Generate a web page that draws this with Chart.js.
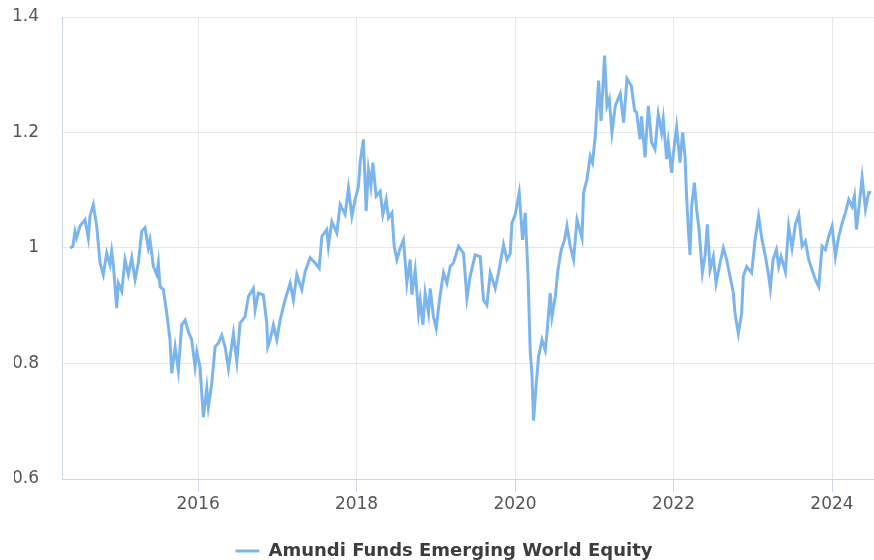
<!DOCTYPE html>
<html>
<head>
<meta charset="utf-8">
<script src="https://cdn.jsdelivr.net/npm/chart.js@4.4.1/dist/chart.umd.min.js"></script>
<style>
  html, body { margin: 0; padding: 0; background: #fff; }
</style>
</head>
<body>
<canvas id="myChart" width="874" height="560"></canvas>
<script>
// fund value, relative to the start (decimal years)
var seriesName = 'Amundi Funds Emerging World Equity';

var dates = [
    2014.384, 2014.420, 2014.447, 2014.468, 2014.510, 2014.573, 2014.615, 2014.636, 2014.678, 2014.721,
    2014.763, 2014.804, 2014.847, 2014.889, 2014.910, 2014.931, 2014.973, 2014.994, 2015.037, 2015.078,
    2015.120, 2015.163, 2015.205, 2015.246, 2015.289, 2015.331, 2015.372, 2015.394, 2015.436, 2015.479,
    2015.499, 2015.520, 2015.562, 2015.605, 2015.646, 2015.668, 2015.710, 2015.751, 2015.794, 2015.836,
    2015.878, 2015.920, 2015.962, 2015.984, 2016.025, 2016.067, 2016.110, 2016.130, 2016.173, 2016.215,
    2016.256, 2016.299, 2016.341, 2016.383, 2016.446, 2016.489, 2016.530, 2016.593, 2016.635, 2016.698,
    2016.720, 2016.761, 2016.824, 2016.867, 2016.880, 2016.909, 2016.951, 2016.994, 2017.035, 2017.098,
    2017.162, 2017.203, 2017.246, 2017.309, 2017.351, 2017.414, 2017.477, 2017.528, 2017.562, 2017.625,
    2017.645, 2017.688, 2017.751, 2017.793, 2017.856, 2017.898, 2017.941, 2017.982, 2018.024, 2018.045,
    2018.087, 2018.121, 2018.150, 2018.181, 2018.206, 2018.247, 2018.298, 2018.332, 2018.374, 2018.403,
    2018.446, 2018.475, 2018.509, 2018.551, 2018.592, 2018.635, 2018.677, 2018.698, 2018.740, 2018.782,
    2018.803, 2018.837, 2018.866, 2018.908, 2018.929, 2018.971, 2019.005, 2019.047, 2019.097, 2019.140,
    2019.182, 2019.223, 2019.287, 2019.350, 2019.393, 2019.434, 2019.497, 2019.561, 2019.602, 2019.645,
    2019.687, 2019.750, 2019.792, 2019.855, 2019.898, 2019.939, 2019.961, 2020.003, 2020.053, 2020.095,
    2020.129, 2020.163, 2020.192, 2020.213, 2020.234, 2020.264, 2020.297, 2020.340, 2020.381, 2020.403,
    2020.444, 2020.466, 2020.508, 2020.542, 2020.583, 2020.625, 2020.655, 2020.697, 2020.739, 2020.782,
    2020.845, 2020.865, 2020.908, 2020.949, 2020.978, 2021.013, 2021.054, 2021.085, 2021.130, 2021.160,
    2021.189, 2021.223, 2021.265, 2021.328, 2021.370, 2021.413, 2021.467, 2021.509, 2021.534, 2021.577,
    2021.597, 2021.640, 2021.682, 2021.723, 2021.766, 2021.808, 2021.850, 2021.871, 2021.913, 2021.934,
    2021.976, 2021.997, 2022.039, 2022.082, 2022.115, 2022.145, 2022.165, 2022.187, 2022.208, 2022.229,
    2022.263, 2022.292, 2022.322, 2022.364, 2022.398, 2022.427, 2022.461, 2022.503, 2022.537, 2022.587,
    2022.629, 2022.670, 2022.713, 2022.755, 2022.776, 2022.818, 2022.860, 2022.881, 2022.923, 2022.986,
    2023.029, 2023.074, 2023.117, 2023.159, 2023.201, 2023.222, 2023.256, 2023.298, 2023.327, 2023.357,
    2023.412, 2023.453, 2023.496, 2023.538, 2023.580, 2023.622, 2023.664, 2023.706, 2023.749, 2023.790,
    2023.832, 2023.875, 2023.917, 2023.958, 2024.001, 2024.043, 2024.085, 2024.128, 2024.169, 2024.211,
    2024.254, 2024.283, 2024.308, 2024.337, 2024.380, 2024.422, 2024.463, 2024.494
];

var values = [
    1.000, 1.003, 1.029, 1.018, 1.038, 1.049, 1.017, 1.055, 1.075, 1.038,
    0.974, 0.954, 0.991, 0.971, 0.994, 0.971, 0.896, 0.939, 0.925, 0.980,
    0.954, 0.983, 0.945, 0.974, 1.029, 1.035, 1.000, 1.014, 0.968, 0.954,
    0.974, 0.933, 0.928, 0.887, 0.841, 0.783, 0.829, 0.788, 0.867, 0.875,
    0.855, 0.841, 0.794, 0.820, 0.794, 0.707, 0.757, 0.725, 0.765, 0.829,
    0.835, 0.849, 0.829, 0.791, 0.852, 0.803, 0.870, 0.881, 0.916, 0.930,
    0.893, 0.922, 0.919, 0.870, 0.829, 0.841, 0.867, 0.841, 0.875, 0.910,
    0.939, 0.910, 0.954, 0.928, 0.959, 0.983, 0.974, 0.965, 1.020, 1.032,
    1.003, 1.046, 1.026, 1.075, 1.058, 1.104, 1.055, 1.084, 1.107, 1.148,
    1.188, 1.064, 1.136, 1.107, 1.148, 1.090, 1.098, 1.058, 1.084, 1.052,
    1.061, 1.003, 0.980, 1.000, 1.014, 0.939, 0.980, 0.919, 0.962, 0.887,
    0.910, 0.867, 0.922, 0.887, 0.930, 0.881, 0.861, 0.910, 0.957, 0.939,
    0.968, 0.974, 1.003, 0.991, 0.913, 0.951, 0.988, 0.985, 0.910, 0.901,
    0.957, 0.930, 0.957, 1.006, 0.980, 0.990, 1.043, 1.058, 1.096, 1.014,
    1.061, 0.957, 0.820, 0.783, 0.701, 0.759, 0.812, 0.841, 0.823, 0.852,
    0.922, 0.881, 0.916, 0.962, 0.997, 1.014, 1.038, 1.003, 0.980, 1.049,
    1.017, 1.096, 1.119, 1.159, 1.148, 1.194, 1.290, 1.220, 1.333, 1.246,
    1.258, 1.200, 1.246, 1.267, 1.217, 1.293, 1.281, 1.238, 1.235, 1.188,
    1.228, 1.157, 1.246, 1.183, 1.171, 1.232, 1.200, 1.223, 1.154, 1.183,
    1.130, 1.162, 1.209, 1.148, 1.200, 1.159, 1.090, 1.032, 0.988, 1.072,
    1.113, 1.067, 1.032, 0.957, 0.986, 1.041, 0.962, 0.985, 0.939, 0.974,
    1.000, 0.980, 0.951, 0.922, 0.887, 0.852, 0.887, 0.951, 0.968, 0.957,
    1.014, 1.055, 1.014, 0.986, 0.951, 0.930, 0.980, 0.997, 0.968, 0.985,
    0.959, 1.038, 1.000, 1.041, 1.058, 1.003, 1.012, 0.980, 0.962, 0.945,
    0.933, 1.003, 0.997, 1.020, 1.038, 0.985, 1.020, 1.043, 1.061, 1.084,
    1.072, 1.090, 1.032, 1.067, 1.122, 1.067, 1.096, 1.096
];

var yearTicks = [2016, 2018, 2020, 2022, 2024];
var valueTicks = [0.6, 0.8, 1, 1.2, 1.4];

var points = dates.map(function(d, i) {
    return { x: d, y: values[i] };
});

var ctx = document.getElementById('myChart').getContext('2d');
var myChart = new Chart(ctx, {
    type: 'line',
    data: {
        datasets: [
            {
                label: seriesName,
                data: points,
                borderColor: '#7cb5ec',
                backgroundColor: '#7cb5ec',
                borderWidth: 3,
                pointRadius: 0,
                tension: 0,
                fill: false
            }
        ]
    },
    options: {
        responsive: false,
        animation: false,
        layout: { padding: { top: 17, right: 0, bottom: -10, left: 14 } },
        plugins: {
            tooltip: { enabled: false },
            legend: {
                position: 'bottom',
                labels: {
                    usePointStyle: true,
                    pointStyle: 'line',
                    pointStyleWidth: 24,
                    color: '#3d3d3d',
                    padding: 0,
                    font: { family: 'DejaVu Sans', size: 18, weight: 'bold' }
                }
            }
        },
        scales: {
            x: {
                type: 'linear',
                min: 2014.283,
                max: 2024.53,
                afterBuildTicks: function(scale) {
                    scale.ticks = yearTicks.map(function(v) { return { value: v }; });
                },
                afterFit: function(scale) { scale.height = 63; },
                border: { color: '#ccd6eb', width: 1 },
                grid: { color: '#e6e6e6', tickColor: '#ccd6eb', tickLength: 13 },
                ticks: {
                    color: '#555',
                    padding: 2,
                    maxRotation: 0,
                    font: { family: 'DejaVu Sans', size: 17 },
                    callback: function(v) { return String(v); }
                }
            },
            y: {
                min: 0.6,
                max: 1.4,
                afterBuildTicks: function(scale) {
                    scale.ticks = valueTicks.map(function(v) { return { value: v }; });
                },
                afterFit: function(scale) { scale.width = 48; },
                border: { color: '#ccd6eb', width: 1 },
                grid: {
                    drawTicks: true,
                    tickLength: 23,
                    tickColor: 'rgba(0,0,0,0)',
                    color: function(c) { return c.tick && c.tick.value === 0.6 ? 'rgba(0,0,0,0)' : '#e6e6e6'; }
                },
                ticks: {
                    color: '#555',
                    padding: 0,
                    font: { family: 'DejaVu Sans', size: 17 },
                    callback: function(v) { return String(Number(v.toFixed(2))); }
                }
            }
        }
    }
});
</script>
</body>
</html>
